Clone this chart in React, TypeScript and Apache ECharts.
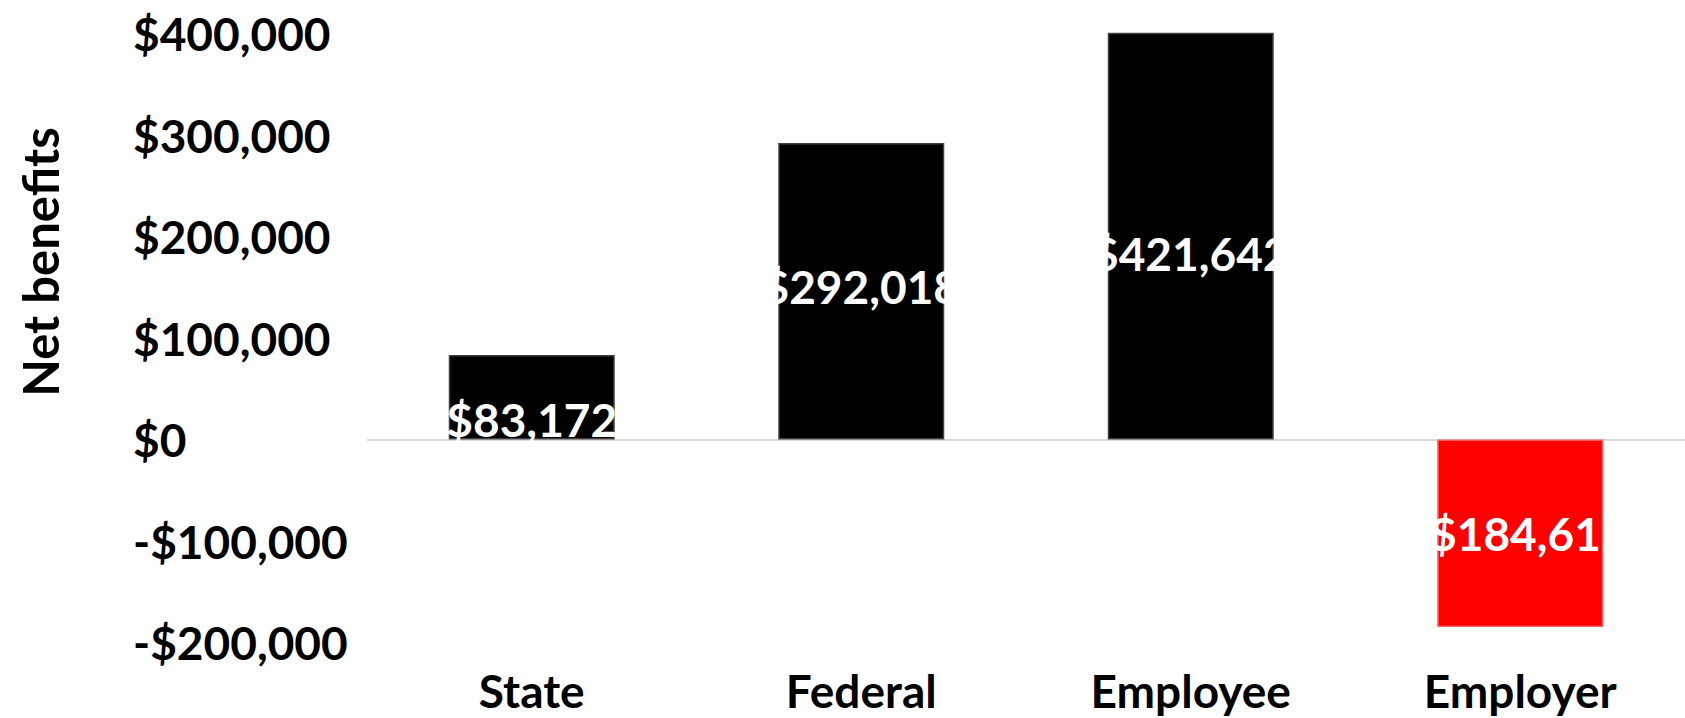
import React, { useEffect, useRef } from "react";
import * as echarts from "echarts";

const categories = ["State", "Federal", "Employee", "Employer"];
const netBenefits = [83172, 292018, 421642, -184615];
const barColors = ["#000000", "#000000", "#000000", "#ff0000"];
const yTicks = [-200000, -100000, 0, 100000, 200000, 300000, 400000];

const fmt = (v: number) => {
  const s = "$" + Math.abs(Math.round(v)).toLocaleString("en-US");
  return v < 0 ? "-" + s : s;
};

export default function App() {
  const ref = useRef<HTMLDivElement>(null);
  useEffect(() => {
    if (!ref.current) return;
    const chart = echarts.init(ref.current, null, { renderer: "svg" });
    const font = "Lato";
    const labelOffsets = [[0, 22], [0, -5], [0, 17], [0, 0]];
    chart.setOption({
      animation: false,
      backgroundColor: "#ffffff",
      grid: { left: 367, top: 33.5, width: 1338, height: 609 },
      xAxis: {
        type: "category",
        data: categories,
        position: "bottom",
        axisLine: { show: false, onZero: false },
        axisTick: { show: false },
        axisLabel: {
          margin: 25,
          fontFamily: font,
          fontWeight: "bold",
          fontSize: 46,
          lineHeight: 46,
          color: "#000000",
        },
      },
      yAxis: {
        type: "value",
        min: yTicks[0],
        max: yTicks[yTicks.length - 1],
        interval: 100000,
        axisLine: { show: false },
        axisTick: { show: false },
        splitLine: {
          show: true,
          lineStyle: {
            width: 2,
            color: yTicks.map((t) => (t === 0 ? "#d9d9d9" : "rgba(0,0,0,0)")),
          },
        },
        axisLabel: {
          align: "left",
          margin: 234,
          fontFamily: font,
          fontWeight: "bold",
          fontSize: 46,
          color: "#000000",
          formatter: (v: number) => fmt(v),
        },
      },
      graphic: [
        {
          type: "text",
          x: 40,
          y: 262,
          rotation: Math.PI / 2,
          style: {
            text: "Net benefits",
            fontFamily: font,
            fontWeight: "bold",
            fontSize: 49,
            fill: "#000000",
            align: "center",
            verticalAlign: "middle",
          },
        },
      ],
      series: [
        {
          type: "bar",
          barWidth: 166,
          clip: true,
          data: netBenefits.map((v, i) => ({
            value: v,
            itemStyle: {
              color: barColors[i],
              borderColor: barColors[i] === "#ff0000" ? "#ff5a5a" : "#404040",
              borderWidth: 1.5,
            },
            label: { offset: labelOffsets[i] },
          })),
          label: {
            show: true,
            position: "inside",
            color: "#ffffff",
            fontFamily: font,
            fontWeight: "bold",
            fontSize: 46,
            formatter: (p: any) => fmt(p.value),
          },
        },
      ],
    });
    return () => chart.dispose();
  }, []);
  return (
    <div
      ref={ref}
      style={{ position: "absolute", left: 0, top: 0, width: 1685, height: 718 }}
    />
  );
}
